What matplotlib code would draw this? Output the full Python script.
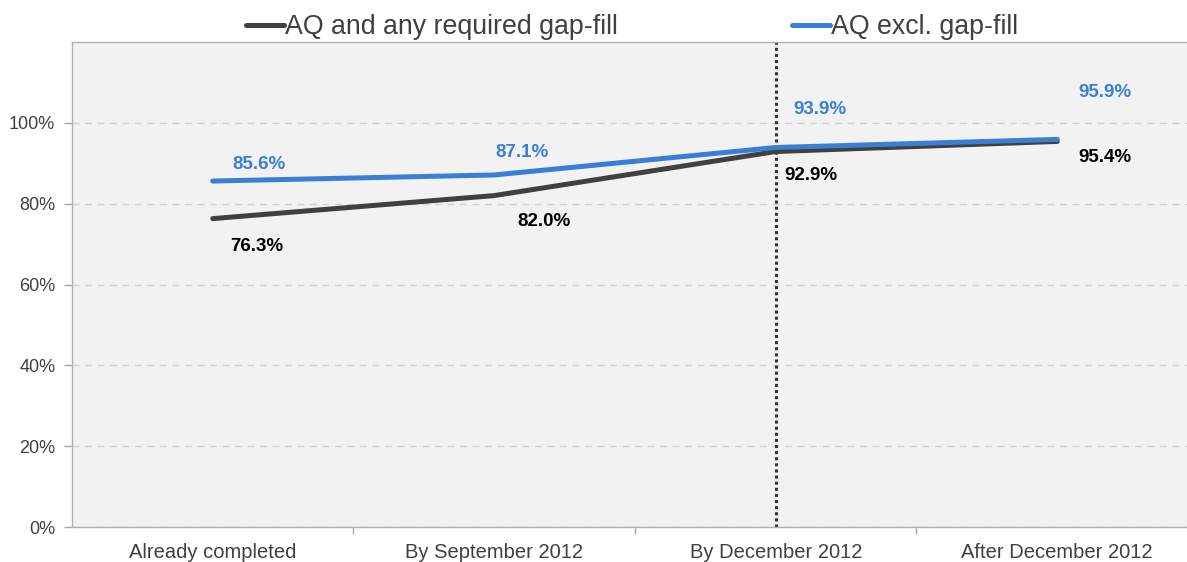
import matplotlib
matplotlib.use('Agg')
from matplotlib import pyplot
import numpy

categories = ['Already completed', 'By September 2012', 'By December 2012', 'After December 2012']
with_gapfill = [76.3, 82.0, 92.9, 95.4]
excl_gapfill = [85.6, 87.1, 93.9, 95.9]
y_ticks = [0, 20, 40, 60, 80, 100]

DARK = '#404040'
BLUE = '#3a7fd5'

pyplot.rcParams['font.family'] = ['Liberation Sans', 'DejaVu Sans']

fig = pyplot.figure(figsize=(11.87, 5.62), dpi=100)
axis = fig.add_axes([72 / 1187, 35 / 562, 1126 / 1187, 485 / 562])
axis.set_facecolor('#f2f2f2')

x = numpy.arange(len(categories))
axis.plot(x, with_gapfill, color=DARK, linewidth=3.6, solid_capstyle='round',
          label='AQ and any required gap-fill', zorder=3)
axis.plot(x, excl_gapfill, color=BLUE, linewidth=3.6, solid_capstyle='round',
          label='AQ excl. gap-fill', zorder=4)

# label offsets in pixels (dx, dy up)
blue_offsets = [(46, 17), (28, 22), (44, 38), (48, 47)]
dark_offsets = [(44, -28), (50, -26), (35, -24), (48, -16)]
for i in range(len(categories)):
    axis.annotate('%.1f%%' % excl_gapfill[i], (x[i], excl_gapfill[i]),
                  xytext=blue_offsets[i], textcoords='offset pixels',
                  ha='center', va='center', fontsize=13.5, fontweight='bold', color=BLUE)
    axis.annotate('%.1f%%' % with_gapfill[i], (x[i], with_gapfill[i]),
                  xytext=dark_offsets[i], textcoords='offset pixels',
                  ha='center', va='center', fontsize=13.5, fontweight='bold', color='black')

axis.axvline(2, color='#333333', linestyle=(0, (1, 1)), linewidth=2.2, zorder=2)

axis.set_xlim(-0.5, 3.5)
axis.set_ylim(0, 120)
axis.set_yticks(y_ticks)
axis.set_yticklabels(['%d%%' % v for v in y_ticks])
axis.set_xticks(x)
axis.set_xticklabels(categories)
axis.set_xticks(x[:-1] + 0.5, minor=True)
axis.tick_params(axis='x', which='major', length=0, pad=11.5, labelsize=14.5, labelcolor=DARK)
axis.tick_params(axis='x', which='minor', length=5, color='#a6a6a6', width=1)
axis.tick_params(axis='y', length=6, color='#a6a6a6', width=1, pad=6, labelsize=13, labelcolor=DARK)
axis.yaxis.grid(True, color='#d0d0d0', linestyle=(0, (5, 4)), linewidth=1)
axis.set_axisbelow(True)
for side in ['left', 'bottom', 'top', 'right']:
    axis.spines[side].set_color('#b0b0b0')
    axis.spines[side].set_linewidth(1)

fig.legend(loc='center', bbox_to_anchor=(632 / 1187, 1 - 27 / 562), ncol=2, frameon=False,
           fontsize=19.3, handlelength=1.4, handletextpad=0.05, columnspacing=6.5,
           labelcolor=DARK)

fig.savefig('out.png', dpi=100)
